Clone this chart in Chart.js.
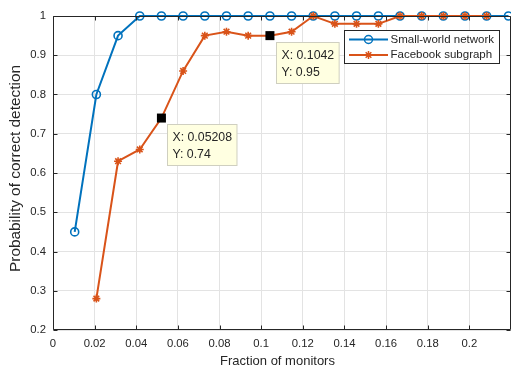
<!DOCTYPE html>
<html>
<head>
<meta charset="utf-8">
<script src="https://cdn.jsdelivr.net/npm/chart.js@4/dist/chart.umd.min.js"></script>
<style>
html, body { margin: 0; padding: 0; background: #fff; overflow: hidden; }
#wrap { width: 511px; height: 371px; position: relative; }
canvas { display: block; }
</style>
</head>
<body>
<div id="wrap"><canvas id="c" width="511" height="371"></canvas></div>
<script>
// ---- data ----
const fractionOfMonitors = [0.01042, 0.02083, 0.03125, 0.04167, 0.05208, 0.0625, 0.07292, 0.08333, 0.09375, 0.1042,
                            0.1146, 0.125, 0.1354, 0.1458, 0.1563, 0.1667, 0.1771, 0.1875, 0.1979, 0.2083, 0.2188];
const smallWorld = [0.45, 0.80, 0.95, 1, 1, 1, 1, 1, 1, 1, 1, 1, 1, 1, 1, 1, 1, 1, 1, 1, 1];
const facebook   = [null, 0.28, 0.63, 0.66, 0.74, 0.86, 0.95, 0.96, 0.95, 0.95, 0.96, 1.0, 0.98, 0.98, 0.98, 1.0, 1.0, 1.0, 1.0, 1.0, null];
const seriesNames = ['Small-world network', 'Facebook subgraph'];
const xTickValues = [0, 0.02, 0.04, 0.06, 0.08, 0.1, 0.12, 0.14, 0.16, 0.18, 0.2];
const xTickLabels = ['0', '0.02', '0.04', '0.06', '0.08', '0.1', '0.12', '0.14', '0.16', '0.18', '0.2'];
const yTickValues = [0.2, 0.3, 0.4, 0.5, 0.6, 0.7, 0.8, 0.9, 1];
const yTickLabels = ['0.2', '0.3', '0.4', '0.5', '0.6', '0.7', '0.8', '0.9', '1'];
const xRange = [0, 0.22];
const yRange = [0.2, 1];
const tipX = [0.05208, 0.1042];
const tipY = [0.74, 0.95];
const xTitle = 'Fraction of monitors';
const yTitle = 'Probability of correct detection';

// ---- styling ----
const FONT = "'Liberation Sans', Arial, Helvetica, sans-serif";
const BLUE = 'rgb(0,114,189)';
const RED = 'rgb(217,83,25)';
const AXIS = '#262626';
const TEXT = '#262626';

function toPoints(xs, ys) {
  const out = [];
  for (let i = 0; i < xs.length; i++) if (ys[i] !== null) out.push({ x: xs[i], y: ys[i] });
  return out;
}

function drawMarker(ctx, style, x, y) {
  Chart.helpers.drawPoint(ctx, {
    pointStyle: style, radius: 4, rotation: 0, borderWidth: 1.5
  }, x, y);
}

const decor = {
  id: 'decor',
  afterDatasetsDraw(chart) {
    const ctx = chart.ctx;
    const a = chart.chartArea;
    const xs = chart.scales.x, ys = chart.scales.y;
    ctx.save();
    // frame
    const L = Math.round(a.left) + 0.5, R = Math.round(a.right) - 0.5;
    const T = Math.round(a.top) + 0.5, B = Math.round(a.bottom) - 0.5;
    ctx.strokeStyle = AXIS;
    ctx.lineWidth = 1;
    ctx.beginPath();
    ctx.rect(L, T, R - L, B - T);
    // inward ticks
    const tl = 4;
    xTickValues.forEach(v => {
      const px = Math.round(xs.getPixelForValue(v)) + 0.5;
      ctx.moveTo(px, B); ctx.lineTo(px, B - tl);
      ctx.moveTo(px, T); ctx.lineTo(px, T + tl);
    });
    yTickValues.forEach(v => {
      const py = Math.round(ys.getPixelForValue(v)) + 0.5;
      ctx.moveTo(L, py); ctx.lineTo(L + tl, py);
      ctx.moveTo(R, py); ctx.lineTo(R - tl, py);
    });
    ctx.stroke();

    // data tips
    for (let i = 0; i < tipX.length; i++) {
      const px = xs.getPixelForValue(tipX[i]);
      const py = ys.getPixelForValue(tipY[i]);
      ctx.fillStyle = '#000';
      ctx.fillRect(px - 4.5, py - 4.5, 9, 9);
      ctx.font = '12.3px ' + FONT;
      const l1 = 'X: ' + tipX[i];
      const l2 = 'Y: ' + tipY[i];
      const w = Math.max(ctx.measureText(l1).width, ctx.measureText(l2).width) + 10;
      const bx = Math.round(px + 6) + 0.5, by = Math.round(py + 6) + 0.5;
      const h = 41;
      ctx.fillStyle = 'rgb(255,255,225)';
      ctx.fillRect(bx, by, w, h);
      ctx.strokeStyle = '#cfcfc0';
      ctx.strokeRect(bx, by, w, h);
      ctx.fillStyle = TEXT;
      ctx.textBaseline = 'middle';
      ctx.textAlign = 'left';
      ctx.fillText(l1, bx + 5, by + 13);
      ctx.fillText(l2, bx + 5, by + 30);
    }

    // legend
    const lx = Math.round(a.right - 167) + 0.5, ly = Math.round(a.top + 14) + 0.5;
    const lw = 155, lh = 33;
    ctx.fillStyle = '#fff';
    ctx.fillRect(lx, ly, lw, lh);
    ctx.strokeStyle = AXIS;
    ctx.lineWidth = 1;
    ctx.strokeRect(lx, ly, lw, lh);
    const colors = [BLUE, RED];
    const styles = ['circle', 'star'];
    ctx.font = '11.5px ' + FONT;
    ctx.textBaseline = 'middle';
    ctx.textAlign = 'left';
    for (let i = 0; i < 2; i++) {
      const ry = ly + 9 + i * 15.5;
      ctx.strokeStyle = colors[i];
      ctx.lineWidth = 2;
      ctx.beginPath();
      ctx.moveTo(lx + 4.5, ry); ctx.lineTo(lx + 43.5, ry);
      ctx.stroke();
      ctx.fillStyle = 'rgba(0,0,0,0)';
      ctx.lineWidth = 1.5;
      drawMarker(ctx, styles[i], lx + 24, ry);
      ctx.fillStyle = TEXT;
      ctx.fillText(seriesNames[i], lx + 46, ry);
    }

    // axis titles
    ctx.fillStyle = TEXT;
    ctx.font = '13px ' + FONT;
    ctx.textAlign = 'center';
    ctx.textBaseline = 'middle';
    ctx.fillText(xTitle, (a.left + a.right) / 2 - 4.5, 361.5);
    ctx.save();
    ctx.translate(16, (a.top + a.bottom) / 2 - 4.5);
    ctx.rotate(-Math.PI / 2);
    ctx.font = '15.4px ' + FONT;
    ctx.fillText(yTitle, 0, 0);
    ctx.restore();
    ctx.restore();
  }
};

new Chart(document.getElementById('c'), {
  type: 'line',
  data: {
    datasets: [
      {
        label: seriesNames[0],
        data: toPoints(fractionOfMonitors, smallWorld),
        borderColor: BLUE, borderWidth: 2,
        pointStyle: 'circle', pointRadius: 4, pointBorderWidth: 1.6,
        pointBackgroundColor: 'rgba(0,0,0,0)', pointBorderColor: BLUE,
        tension: 0, clip: false, order: 1
      },
      {
        label: seriesNames[1],
        data: toPoints(fractionOfMonitors, facebook),
        borderColor: RED, borderWidth: 2,
        pointStyle: 'star', pointRadius: 4, pointBorderWidth: 1.6,
        pointBackgroundColor: 'rgba(0,0,0,0)', pointBorderColor: RED,
        tension: 0, clip: false, order: 0
      }
    ]
  },
  options: {
    responsive: false,
    animation: false,
    devicePixelRatio: 1,
    layout: { autoPadding: false, padding: { top: 16, right: 0, left: 0, bottom: 0 } },
    plugins: { legend: { display: false }, tooltip: { enabled: false } },
    scales: {
      x: {
        type: 'linear', min: xRange[0], max: xRange[1],
        afterFit: s => { s.height = 41; s.paddingLeft = 0; s.paddingRight = 0; },
        afterBuildTicks: s => { s.ticks = xTickValues.map(v => ({ value: v })); },
        ticks: {
          callback: (v, i) => xTickLabels[i],
          font: { family: FONT, size: 11.3 }, color: TEXT, padding: 7,
          maxRotation: 0, autoSkip: false
        },
        grid: { color: '#e3e3e3', drawTicks: false },
        border: { display: false }
      },
      y: {
        type: 'linear', min: yRange[0], max: yRange[1],
        afterFit: s => { s.width = 53; s.paddingTop = 0; s.paddingBottom = 0; },
        afterBuildTicks: s => { s.ticks = yTickValues.map(v => ({ value: v })); },
        ticks: {
          callback: (v, i) => yTickLabels[i],
          font: { family: FONT, size: 11.3 }, color: TEXT, padding: 7,
          autoSkip: false
        },
        grid: { color: '#e3e3e3', drawTicks: false },
        border: { display: false }
      }
    }
  },
  plugins: [decor]
});
</script>
</body>
</html>
